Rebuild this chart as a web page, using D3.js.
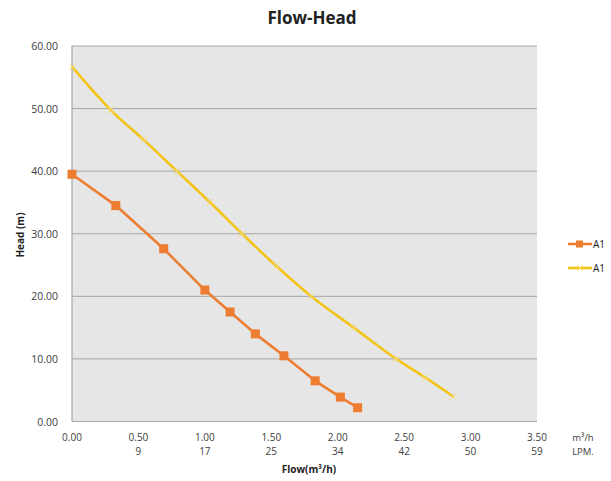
<!DOCTYPE html>
<html>
<head>
<meta charset="utf-8">
<script src="https://cdn.jsdelivr.net/npm/d3@7"></script>
<style>
  body { margin:0; background:#fff; font-family:"Open Sans", "DejaVu Sans", sans-serif; }
  svg text { fill:#404040; }
</style>
</head>
<body>
<svg width="611" height="481"></svg>
<script>
// flow in m3/h
const flowTicks = [0, 0.5, 1.0, 1.5, 2.0, 2.5, 3.0, 3.5];
const lpmTicks = ["", "9", "17", "25", "34", "42", "50", "59"];
const headTicks = [0, 10, 20, 30, 40, 50, 60];

const orangeFlow = [0, 0.33, 0.69, 1.0, 1.19, 1.38, 1.595, 1.83, 2.02, 2.15];
const orangeHead = [39.5, 34.5, 27.6, 21.0, 17.5, 14.0, 10.5, 6.5, 3.9, 2.2];

const yellowFlow = [0, 0.29, 0.54, 0.79, 1.04, 1.28, 1.54, 1.80, 2.12, 2.44, 2.66, 2.87];
const yellowHead = [56.7, 49.8, 45.0, 40.0, 35.0, 30.0, 24.8, 20.0, 15.0, 10.0, 7.0, 4.0];

const seriesNames = ["A1", "A1"];

const svg = d3.select("svg");
const m = {left:72, top:46, right:537, bottom:421.5};

const x = d3.scaleLinear().domain([0, 3.5]).range([m.left, m.right]);
const y = d3.scaleLinear().domain([0, 60]).range([m.bottom, m.top]);

// plot area
svg.append("rect")
  .attr("x", m.left).attr("y", m.top)
  .attr("width", m.right - m.left).attr("height", m.bottom - m.top)
  .attr("fill", "#e6e6e6");

// grid
svg.append("g")
  .selectAll("line")
  .data(headTicks.slice(1))
  .enter().append("line")
  .attr("x1", m.left).attr("x2", m.right)
  .attr("y1", d => y(d)).attr("y2", d => y(d))
  .attr("stroke", "#a6a6a6").attr("stroke-width", 1);

// axis lines
svg.append("line").attr("x1", m.left).attr("x2", m.left).attr("y1", m.top).attr("y2", m.bottom)
  .attr("stroke", "#a6a6a6").attr("stroke-width", 1.2);
svg.append("line").attr("x1", m.left).attr("x2", m.right).attr("y1", m.bottom).attr("y2", m.bottom)
  .attr("stroke", "#a6a6a6").attr("stroke-width", 1.2);

// y tick labels
svg.append("g")
  .selectAll("text")
  .data(headTicks)
  .enter().append("text")
  .attr("x", 58).attr("y", d => y(d) + 4)
  .attr("text-anchor", "end")
  .attr("font-size", 10.5)
  .text(d => d.toFixed(2));

// x tick labels, two rows
const xl = svg.append("g");
xl.selectAll(".m3")
  .data(flowTicks)
  .enter().append("text")
  .attr("x", d => x(d)).attr("y", 441)
  .attr("text-anchor", "middle").attr("font-size", 10)
  .text(d => d.toFixed(2));
xl.selectAll(".lpm")
  .data(flowTicks)
  .enter().append("text")
  .attr("x", d => x(d)).attr("y", 455)
  .attr("text-anchor", "middle").attr("font-size", 10)
  .text((d, i) => lpmTicks[i]);

svg.append("text").attr("x", 583).attr("y", 441).attr("text-anchor", "middle").attr("font-size", 9.5).text("m³/h");
svg.append("text").attr("x", 583).attr("y", 455).attr("text-anchor", "middle").attr("font-size", 9.5).text("LPM.");

// titles
svg.append("text").attr("x", 312).attr("y", 24).attr("text-anchor", "middle")
  .attr("font-size", 17).attr("font-weight", "bold").style("fill", "#222").text("Flow-Head");
svg.append("text").attr("x", 309).attr("y", 473).attr("text-anchor", "middle")
  .attr("font-size", 10).attr("font-weight", "bold").style("fill", "#222").text("Flow(m³/h)");
svg.append("text").attr("transform", "translate(24,235) rotate(-90)").attr("text-anchor", "middle")
  .attr("font-size", 10).attr("font-weight", "bold").style("fill", "#222").text("Head (m)");

const line = d3.line().x(d => x(d[0])).y(d => y(d[1]));
const smooth = d3.line().x(d => x(d[0])).y(d => y(d[1])).curve(d3.curveMonotoneX);

// yellow series
const yData = yellowFlow.map((f, i) => [f, yellowHead[i]]);
svg.append("path").datum(yData).attr("d", smooth)
  .attr("fill", "none").attr("stroke", "#f2c418").attr("stroke-width", 2.6).attr("stroke-linejoin", "round");
svg.append("g").selectAll("path")
  .data(yData).enter().append("path")
  .attr("d", d3.symbol(d3.symbolX, 30))
  .attr("transform", d => `translate(${x(d[0])},${y(d[1])})`)
  .attr("stroke", "#f7dc7a").attr("stroke-width", 1).attr("fill", "none");

// orange series
const oData = orangeFlow.map((f, i) => [f, orangeHead[i]]);
svg.append("path").datum(oData).attr("d", line)
  .attr("fill", "none").attr("stroke", "#ed7d31").attr("stroke-width", 2.6).attr("stroke-linejoin", "round");
svg.append("g").selectAll("rect")
  .data(oData).enter().append("rect")
  .attr("x", d => x(d[0]) - 4.5).attr("y", d => y(d[1]) - 4.5)
  .attr("width", 9).attr("height", 9)
  .attr("fill", "#ed7d31");

// legend
const leg = svg.append("g");
const legColors = ["#ed7d31", "#f2c418"];
const legY = [244, 268];
seriesNames.forEach((n, i) => {
  leg.append("line").attr("x1", 568).attr("x2", 592).attr("y1", legY[i]).attr("y2", legY[i])
    .attr("stroke", legColors[i]).attr("stroke-width", 2.6);
  if (i === 0) {
    leg.append("rect").attr("x", 576).attr("y", legY[i] - 3.5).attr("width", 7).attr("height", 7).attr("fill", legColors[i]);
  } else {
    leg.append("path").attr("d", d3.symbol(d3.symbolX, 24)).attr("transform", `translate(580,${legY[i]})`)
      .attr("stroke", "#f7dc7a").attr("fill", "none");
  }
  leg.append("text").attr("x", 593).attr("y", legY[i] + 4).attr("font-size", 10).style("fill", "#222").text(n);
});
</script>
</body>
</html>
